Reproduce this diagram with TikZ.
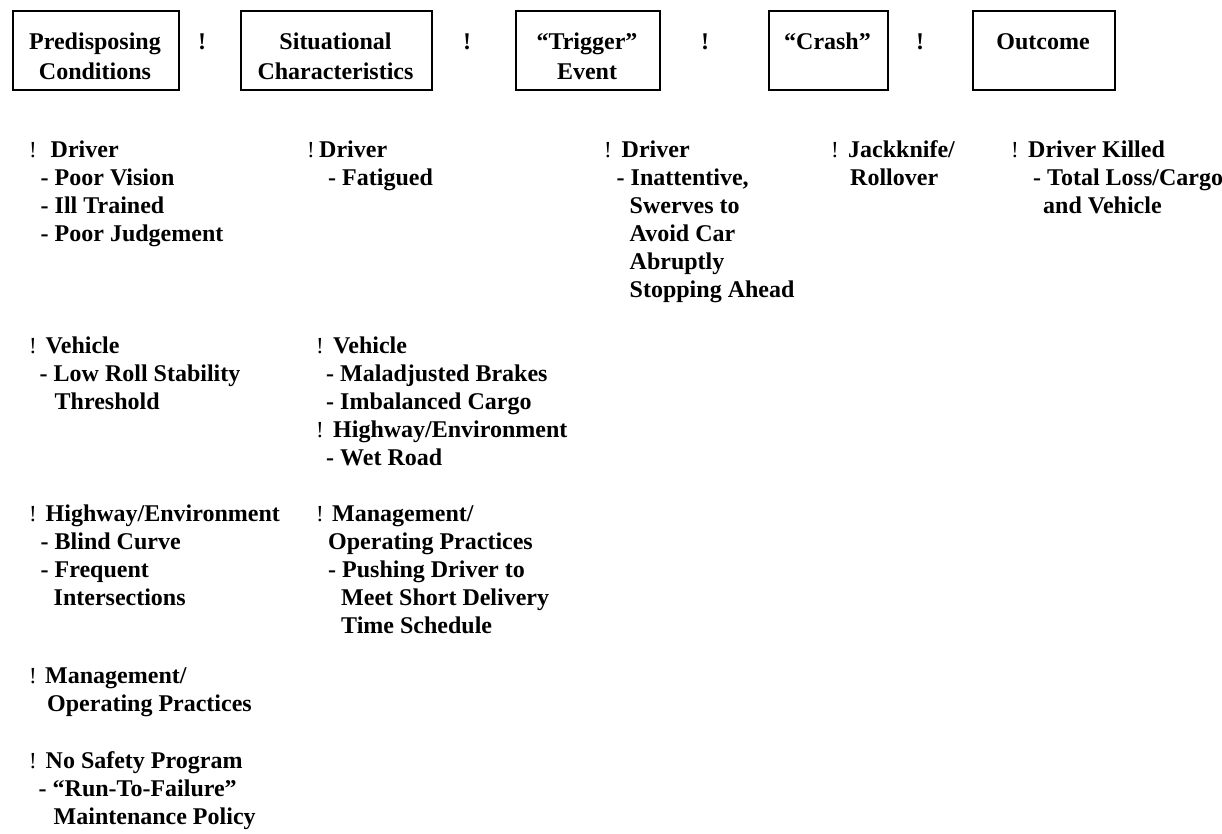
\documentclass[tikz,border=0pt]{standalone}
\usepackage{fontspec}
\setmainfont{Liberation Serif}
\newcommand\glines[1]{\begin{tabular}[t]{@{}l@{}}#1\end{tabular}}
\newcommand\clines[1]{\begin{tabular}[t]{@{}c@{}}#1\end{tabular}}
\newcommand\ind[1]{\hspace*{#1pt}}
\tikzset{
  x=1pt, y=1pt,
  hbox/.style={draw, line width=1.8pt, inner sep=0pt, anchor=north west, minimum height=79pt},
  htext/.style={font=\fontsize{24}{30}\selectfont\bfseries, inner sep=0pt, anchor=base},
  harr/.style={font=\fontsize{24}{30}\selectfont\bfseries, inner sep=0pt, anchor=base},
  bul/.style={font=\fontsize{23}{28}\selectfont, inner sep=0pt, anchor=base west},
  grp/.style={font=\fontsize{24}{28}\selectfont\bfseries, inner sep=0pt, anchor=base west},
}
\begin{document}
\begin{tikzpicture}
\useasboundingbox (0,0) rectangle (1222,-833);
% header boxes
\node[hbox, minimum width=166pt] (b1) at (12,-10) {};
\node[hbox, minimum width=191pt] (b2) at (240,-10) {};
\node[hbox, minimum width=144pt] (b3) at (515,-10) {};
\node[hbox, minimum width=119pt] (b4) at (768,-10) {};
\node[hbox, minimum width=142pt] (b5) at (972,-10) {};
\node[htext] (t1) at (95,-49) {\clines{Predisposing\\Conditions}};
\node[htext] (t2) at (335.5,-49) {\clines{Situational\\Characteristics}};
\node[htext] (t3) at (587,-49) {\clines{“Trigger”\\Event}};
\node[htext] (t4) at (827.5,-49) {“Crash”};
\node[htext] (t5) at (1043,-49) {Outcome};
\node[harr] (a1) at (202,-49) {!};
\node[harr] (a2) at (467,-49) {!};
\node[harr] (a3) at (705,-49) {!};
\node[harr] (a4) at (920,-49) {!};
% column 1
\node[bul] (p11) at (29,-157) {!};
\node[grp] (g11) at (40.5,-157) {\glines{\ind{10}Driver\\- Poor Vision\\- Ill Trained\\- Poor Judgement}};
\node[bul] (p12) at (29,-353) {!};
\node[grp] (g12) at (39.5,-353) {\glines{\ind{6}Vehicle\\- Low Roll Stability\\\ind{15}Threshold}};
\node[bul] (p13) at (29,-521) {!};
\node[grp] (g13) at (40.5,-521) {\glines{\ind{5}Highway/Environment\\- Blind Curve\\- Frequent\\\ind{13}Intersections}};
\node[bul] (p14) at (29,-683) {!};
\node[grp] (g14) at (45,-683) {\glines{Management/\\\ind{2}Operating Practices}};
\node[bul] (p15) at (29,-768) {!};
\node[grp] (g15) at (38.5,-768) {\glines{\ind{7}No Safety Program\\- “Run-To-Failure”\\\ind{15}Maintenance Policy}};
% column 2
\node[bul] (p21) at (307,-157) {!};
\node[grp] (g21) at (319,-157) {\glines{Driver\\\ind{9}- Fatigued}};
\node[bul] (p22) at (316,-353) {!};
\node[grp] (g22) at (326,-353) {\glines{\ind{7}Vehicle\\- Maladjusted Brakes\\- Imbalanced Cargo}};
\node[bul] (p23) at (316,-437) {!};
\node[grp] (g23) at (326,-437) {\glines{\ind{7}Highway/Environment\\- Wet Road}};
\node[bul] (p24) at (316,-521) {!};
\node[grp] (g24) at (328,-521) {\glines{\ind{4}Management/\\Operating Practices\\- Pushing Driver to\\\ind{13}Meet Short Delivery\\\ind{13}Time Schedule}};
% column 3
\node[bul] (p31) at (604,-157) {!};
\node[grp] (g31) at (616.5,-157) {\glines{\ind{5}Driver\\- Inattentive,\\\ind{13}Swerves to\\\ind{13}Avoid Car\\\ind{13}Abruptly\\\ind{13}Stopping Ahead}};
% column 4
\node[bul] (p41) at (831,-157) {!};
\node[grp] (g41) at (848,-157) {\glines{Jackknife/\\\ind{2}Rollover}};
% column 5
\node[bul] (p51) at (1011,-157) {!};
\node[grp] (g51) at (1028,-157) {\glines{Driver Killed\\\ind{5}- Total Loss/Cargo\\\ind{15}and Vehicle}};
\end{tikzpicture}
\end{document}
